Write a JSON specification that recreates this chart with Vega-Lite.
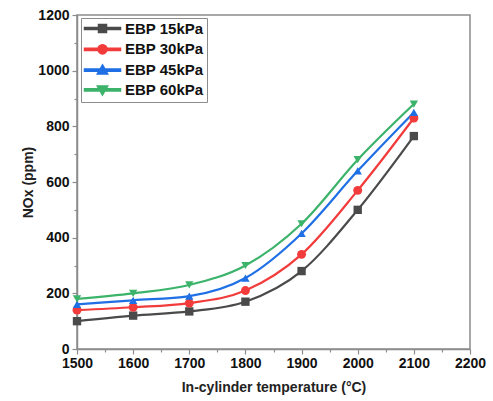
{
  "$schema": "https://vega.github.io/schema/vega-lite/v6.json",
  "width": 393,
  "height": 334,
  "autosize": "none",
  "padding": {"left": 77, "top": 15, "right": 23, "bottom": 52},
  "background": "white",
  "config": {
    "font": "Liberation Sans",
    "view": {"stroke": "#8c8c8c", "strokeWidth": 1.5},
    "axis": {
      "domainColor": "#8c8c8c",
      "tickColor": "#8c8c8c",
      "domainWidth": 1.5,
      "tickWidth": 1.2,
      "grid": false,
      "labelFont": "Liberation Sans",
      "labelFontWeight": "bold",
      "labelFontSize": 14,
      "labelColor": "#111",
      "titleFont": "Liberation Sans",
      "titleFontWeight": "bold",
      "titleFontSize": 14,
      "titleColor": "#222"
    },
    "legend": {
      "orient": "none",
      "legendX": 4,
      "legendY": 3,
      "padding": 3,
      "strokeColor": "#8c8c8c",
      "fillColor": "white",
      "symbolSize": 64,
      "symbolOpacity": 1,
      "symbolOffset": 11,
      "labelOffset": 15,
      "rowPadding": 3.8,
      "labelFont": "Liberation Sans",
      "labelFontWeight": "bold",
      "labelFontSize": 15,
      "labelColor": "#111"
    }
  },
  "data": {
    "values": [
      {"T": 1500, "NOx": 100, "s": "EBP 15kPa"},
      {"T": 1600, "NOx": 120, "s": "EBP 15kPa"},
      {"T": 1700, "NOx": 135, "s": "EBP 15kPa"},
      {"T": 1800, "NOx": 170, "s": "EBP 15kPa"},
      {"T": 1900, "NOx": 280, "s": "EBP 15kPa"},
      {"T": 2000, "NOx": 500, "s": "EBP 15kPa"},
      {"T": 2100, "NOx": 765, "s": "EBP 15kPa"},
      {"T": 1500, "NOx": 140, "s": "EBP 30kPa"},
      {"T": 1600, "NOx": 150, "s": "EBP 30kPa"},
      {"T": 1700, "NOx": 165, "s": "EBP 30kPa"},
      {"T": 1800, "NOx": 210, "s": "EBP 30kPa"},
      {"T": 1900, "NOx": 340, "s": "EBP 30kPa"},
      {"T": 2000, "NOx": 570, "s": "EBP 30kPa"},
      {"T": 2100, "NOx": 830, "s": "EBP 30kPa"},
      {"T": 1500, "NOx": 160, "s": "EBP 45kPa"},
      {"T": 1600, "NOx": 175, "s": "EBP 45kPa"},
      {"T": 1700, "NOx": 190, "s": "EBP 45kPa"},
      {"T": 1800, "NOx": 255, "s": "EBP 45kPa"},
      {"T": 1900, "NOx": 415, "s": "EBP 45kPa"},
      {"T": 2000, "NOx": 640, "s": "EBP 45kPa"},
      {"T": 2100, "NOx": 850, "s": "EBP 45kPa"},
      {"T": 1500, "NOx": 180, "s": "EBP 60kPa"},
      {"T": 1600, "NOx": 200, "s": "EBP 60kPa"},
      {"T": 1700, "NOx": 230, "s": "EBP 60kPa"},
      {"T": 1800, "NOx": 300, "s": "EBP 60kPa"},
      {"T": 1900, "NOx": 450, "s": "EBP 60kPa"},
      {"T": 2000, "NOx": 680, "s": "EBP 60kPa"},
      {"T": 2100, "NOx": 880, "s": "EBP 60kPa"}
    ]
  },
  "encoding": {
    "x": {
      "field": "T",
      "type": "quantitative",
      "scale": {"domain": [1500, 2200], "nice": false, "zero": false},
      "axis": {
        "title": "In-cylinder temperature (°C)",
        "format": "d",
        "values": [1500, 1550, 1600, 1650, 1700, 1750, 1800, 1850, 1900, 1950, 2000, 2050, 2100, 2150, 2200],
        "labelExpr": "datum.value % 100 == 0 ? datum.label : ''",
        "tickSize": {"condition": {"test": "datum.value % 100 != 0", "value": 3}, "value": 5},
        "labelPadding": 2,
        "titlePadding": 10,
        "labelFlush": false
      }
    },
    "y": {
      "field": "NOx",
      "type": "quantitative",
      "scale": {"domain": [0, 1200], "nice": false},
      "axis": {
        "title": "NOx (ppm)",
        "format": "d",
        "values": [0, 100, 200, 300, 400, 500, 600, 700, 800, 900, 1000, 1100, 1200],
        "labelExpr": "datum.value % 200 == 0 ? datum.label : ''",
        "tickSize": {"condition": {"test": "datum.value % 200 != 0", "value": 3}, "value": 5},
        "labelPadding": 3,
        "titlePadding": 2,
        "labelFlush": false
      }
    },
    "color": {
      "field": "s",
      "type": "nominal",
      "scale": {
        "domain": ["EBP 15kPa", "EBP 30kPa", "EBP 45kPa", "EBP 60kPa"],
        "range": ["#4a4a4a", "#f23b3b", "#1f6fe5", "#3cb36a"]
      },
      "legend": {"title": null}
    }
  },
  "layer": [
    {
      "mark": {"type": "line", "interpolate": "monotone", "strokeWidth": 2.2}
    },
    {
      "transform": [{"filter": "datum.s === 'EBP 15kPa'"}],
      "mark": {"type": "point", "filled": true, "opacity": 1, "size": 70, "shape": "square"}
    },
    {
      "transform": [{"filter": "datum.s === 'EBP 30kPa'"}],
      "mark": {"type": "point", "filled": true, "opacity": 1, "size": 80, "shape": "circle"}
    },
    {
      "transform": [{"filter": "datum.s === 'EBP 45kPa'"}],
      "mark": {"type": "point", "filled": true, "opacity": 1, "size": 70, "shape": "triangle-up"}
    },
    {
      "transform": [{"filter": "datum.s === 'EBP 60kPa'"}],
      "mark": {"type": "point", "filled": true, "opacity": 1, "size": 70, "shape": "triangle-down"}
    },
    {
      "mark": {"type": "point", "filled": true, "opacity": 0, "size": 64},
      "encoding": {
        "shape": {
          "field": "s",
          "type": "nominal",
          "scale": {
            "domain": ["EBP 15kPa", "EBP 30kPa", "EBP 45kPa", "EBP 60kPa"],
            "range": [
              "M-4.5,-0.28H4.5V0.28H-4.5ZM-1,-1H1V1H-1Z",
              "M-4.5,-0.28H4.5V0.28H-4.5ZM-1.15,0A1.15,1.15 0 1,1 1.15,0A1.15,1.15 0 1,1 -1.15,0Z",
              "M-4.5,-0.28H4.5V0.28H-4.5ZM0,-1.3L1.3,1L-1.3,1Z",
              "M-4.5,-0.28H4.5V0.28H-4.5ZM0,1.3L-1.3,-1L1.3,-1Z"
            ]
          },
          "legend": {"title": null}
        }
      }
    }
  ]
}
